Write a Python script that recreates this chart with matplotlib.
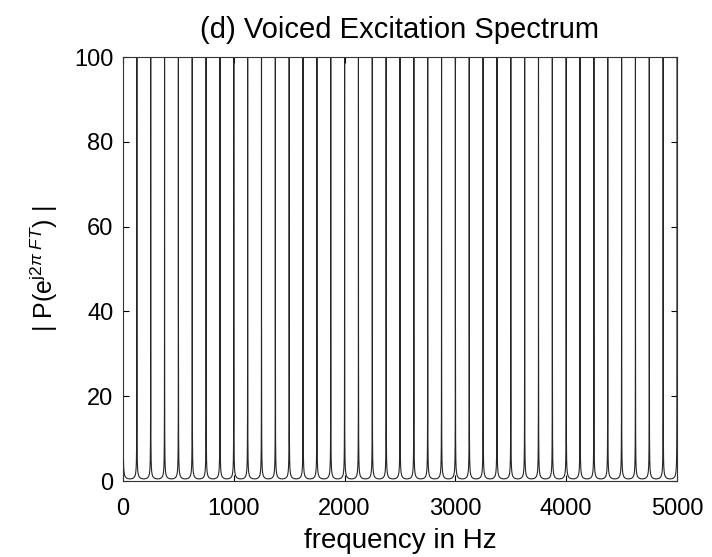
import numpy as np
import matplotlib
matplotlib.use('Agg')
from matplotlib import pyplot as plt

# values
harmonics = [0, 125, 250, 375, 500, 625, 750, 875, 1000, 1125, 1250, 1375,
             1500, 1625, 1750, 1875, 2000, 2125, 2250, 2375, 2500, 2625,
             2750, 2875, 3000, 3125, 3250, 3375, 3500, 3625, 3750, 3875,
             4000, 4125, 4250, 4375, 4500, 4625, 4750, 4875, 5000]
pitch_hz = 125
beta = 0.99          # peak = 1/(1-beta) = 100, valley ~ 0.5
xticks = [0, 1000, 2000, 3000, 4000, 5000]
yticks = [0, 20, 40, 60, 80, 100]

plt.rcParams['font.family'] = ['Liberation Sans', 'DejaVu Sans']
plt.rcParams['mathtext.fontset'] = 'custom'
plt.rcParams['mathtext.rm'] = 'Liberation Sans'
plt.rcParams['mathtext.it'] = 'Liberation Sans:italic'

# comb spectrum |1/(1 - beta e^{-j theta})| around each harmonic
f = np.linspace(0, 5000, 200001)
h = np.array(harmonics)
idx = np.clip(np.searchsorted(h, f), 1, len(h) - 1)
d = np.minimum(np.abs(f - h[idx - 1]), np.abs(f - h[idx]))
theta = 2 * np.pi * d / pitch_hz
mag = 1.0 / np.sqrt(1 - 2 * beta * np.cos(theta) + beta ** 2)

fig = plt.figure(figsize=(7.12, 5.57), dpi=100)
ax = fig.add_axes([123 / 712, 1 - 481 / 557, 554 / 712, 424 / 557])
ax.plot(f, mag, color='0.15', lw=0.8)
ax.set_xlim(0, 5000)
ax.set_ylim(0, 100)
ax.set_xticks(xticks)
ax.set_yticks(yticks)
ax.tick_params(direction='in', top=True, right=True, labelsize=17, length=4)
ax.tick_params(axis='x', pad=12)
ax.tick_params(axis='y', pad=7)
for s in ax.spines.values():
    s.set_linewidth(0.8)
    s.set_color('0.2')
ax.set_title('(d) Voiced Excitation Spectrum', fontsize=21, pad=14)
ax.set_xlabel('frequency in Hz', fontsize=20, labelpad=6)
ax.set_ylabel(r'| P(e$^{\mathrm{j2}\pi\ FT}$) |', fontsize=18, labelpad=10)

fig.savefig('out.png', dpi=100)
